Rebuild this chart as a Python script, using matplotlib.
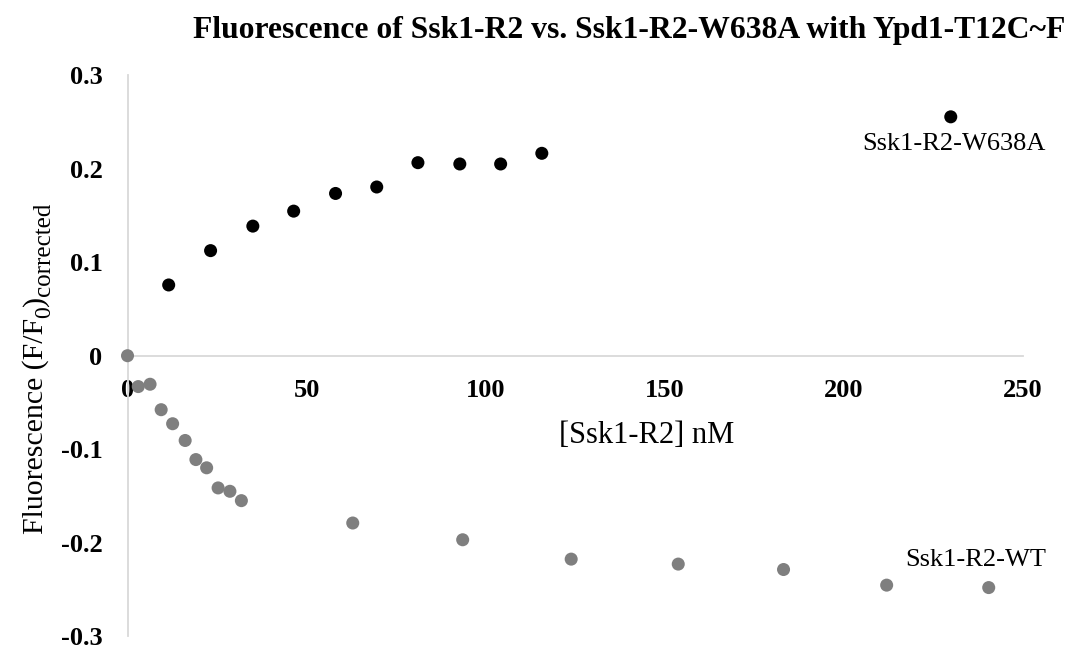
import numpy as np
import matplotlib
matplotlib.use('Agg')
import matplotlib.pyplot as plt

plt.rcParams['font.family'] = ['Liberation Serif', 'DejaVu Serif']

# Ssk1-R2-W638A (black)
mut_x = [11.5, 23.2, 35.0, 46.4, 58.1, 69.6, 81.1, 92.8, 104.2, 115.7, 229.9]
mut_y = [0.0756, 0.1123, 0.1385, 0.1545, 0.1734, 0.1803, 0.2063, 0.2049, 0.2049, 0.2163, 0.2553]

# Ssk1-R2-WT (grey)
wt_x = [0.0, 3.0, 6.3, 9.4, 12.6, 16.1, 19.1, 22.1, 25.3, 28.6, 31.8,
        62.9, 93.6, 123.9, 153.8, 183.2, 212.0, 240.5]
wt_y = [0.0, -0.033, -0.0305, -0.0577, -0.0727, -0.0906, -0.111, -0.1198, -0.1413, -0.1449, -0.1549,
        -0.1788, -0.1967, -0.2174, -0.2227, -0.2285, -0.2452, -0.2478]

xticks = [0, 50, 100, 150, 200, 250]
yticks = [-0.3, -0.2, -0.1, 0, 0.1, 0.2, 0.3]
ytick_labels = ['-0.3', '-0.2', '-0.1', '0', '0.1', '0.2', '0.3']

W, H = 1076, 651
fig = plt.figure(figsize=(W / 100, H / 100), dpi=100)
ax = fig.add_axes([0.1185, 0.0224, 0.832, 0.8624])

ax.scatter(wt_x, wt_y, s=88, color='#7f7f7f', edgecolors='none', zorder=3, clip_on=False)
ax.scatter(mut_x, mut_y, s=88, color='black', edgecolors='none', zorder=3, clip_on=False)

ax.set_xlim(0, 250)
ax.set_ylim(-0.3, 0.3)
ax.set_xticks(xticks)
ax.set_yticks(yticks)
ax.set_yticklabels(ytick_labels)

for s in ['top', 'right']:
    ax.spines[s].set_visible(False)
ax.spines['bottom'].set_position(('data', 0))
for s in ['bottom', 'left']:
    ax.spines[s].set_color('#d9d9d9')
    ax.spines[s].set_linewidth(1.3)

ax.tick_params(axis='x', length=0, pad=17, labelsize=19)
ax.tick_params(axis='y', length=0, pad=18, labelsize=19)
for lab in ax.get_xticklabels() + ax.get_yticklabels():
    lab.set_fontweight('bold')

ax.set_xlabel('[Ssk1-R2] nM', fontsize=22, va='center')
ax.xaxis.set_label_coords(0.580, 0.358)

ax.text(230.8, 0.2267, 'Ssk1-R2-W638A', fontsize=19, ha='center', va='center')
ax.text(236.8, -0.218, 'Ssk1-R2-WT', fontsize=19, ha='center', va='center')

fig.text(193 / W, 1 - 38 / H, 'Fluorescence of Ssk1-R2 vs. Ssk1-R2-W638A with Ypd1-T12C~F',
         fontsize=22.8, fontweight='bold', ha='left', va='baseline')

# y label built piece by piece (rotated), subscripts a bit larger than mathtext gives
ylab_parts = [('Fluorescence (F/F', 21.5, 0), ('0', 17, 7), (')', 21.5, 0), ('corrected', 18, 7)]
fig.canvas.draw()
renderer = fig.canvas.get_renderer()
base_x = 43.0      # baseline, px from left
cur_y = 651 - 534  # start, px from bottom
for txt, size, shift in ylab_parts:
    t = fig.text((base_x + shift) / W, cur_y / H, txt, fontsize=size, rotation=90,
                 rotation_mode='anchor', ha='left', va='baseline')
    bb = t.get_window_extent(renderer)
    cur_y += bb.height

fig.savefig('out.png', dpi=100)
